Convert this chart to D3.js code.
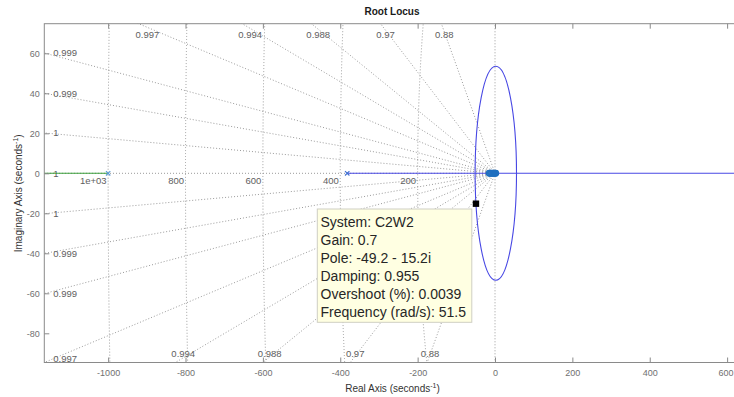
<!DOCTYPE html>
<html>
<head>
<meta charset="utf-8">
<script src="https://cdn.jsdelivr.net/npm/d3@7"></script>
<style>
  html, body { margin: 0; padding: 0; background: #fff; }
  svg { display: block; font-family: "Liberation Sans", Arial, Helvetica, sans-serif; }
</style>
</head>
<body>
<svg id="chart" width="734" height="397"></svg>
<script>
// Axis limits and ticks
const xLimits = [-1165, 632];
const yLimits = [-94.6, 74.8];
const xTicks = [-1000, -800, -600, -400, -200, 0, 200, 400, 600];
const yTicks = [-80, -60, -40, -20, 0, 20, 40, 60];

// s-plane grid: damping ratios (rays) and natural frequencies (semicircles)
const dampingValues = [1, 0.99985, 0.99941, 0.99867, 0.99672, 0.99351, 0.9878, 0.9695, 0.88, 0];
const frequencyValues = [200, 400, 600, 800, 1000];

// Root locus branches on the real axis (start, end, colour)
const realBranchStart = [xLimits[0], -382];
const realBranchEnd = [-1000, xLimits[1]];
const realBranchColor = ["#3a9e3a", "#4848e4"];

// Circular branch of the locus (centre on the real axis, radius)
const circleCenter = 2.1;
const circleRadius = 53.5;

// Open-loop poles away from the origin and the pole/zero cluster near it
const farPoles = [-1000, -382];
const farPoleColor = ["#5b9bd5", "#3f6fd0"];
const clusterZeros = [-15, -12, -9, -6, -3, 0, 2];
const clusterPoles = [-10, -4, 0];

// Data tip
const tipSystem = "C2W2";
const tipGain = 0.7;
const tipPole = [-49.2, -15.2];
const tipDamping = 0.955;
const tipOvershoot = "0.0039";
const tipFrequency = 51.5;

const W = 734;
const svg = d3.select("#chart");
const plot = { left: 44.3, right: 739.5, top: 23.7, bottom: 362.5 };

const x = d3.scaleLinear().domain(xLimits).range([plot.left, plot.right]);
const y = d3.scaleLinear().domain(yLimits).range([plot.bottom, plot.top]);

// %.3g style number formatting
function fmt3g(v) {
  let s = Number(v).toPrecision(3);
  if (s.includes("e")) {
    let [m, e] = s.split("e");
    if (m.includes(".")) m = m.replace(/0+$/, "").replace(/\.$/, "");
    const sign = e[0];
    let digits = e.slice(1);
    if (digits.length < 2) digits = "0" + digits;
    return m + "e" + sign + digits;
  }
  if (s.includes(".")) s = s.replace(/0+$/, "").replace(/\.$/, "");
  return s;
}

svg.append("defs").append("clipPath").attr("id", "plotClip")
  .append("rect")
  .attr("x", plot.left).attr("y", plot.top)
  .attr("width", plot.right - plot.left).attr("height", plot.bottom - plot.top);

const grid = svg.append("g").attr("clip-path", "url(#plotClip)");
const gridStyle = sel => sel.attr("fill", "none").attr("stroke", "#8f8f8f")
  .attr("stroke-width", 0.9).attr("stroke-dasharray", "1 2");

const x0 = x(0), y0 = y(0);
const pxRatio = (y(0) - y(1)) / (x(1) - x(0));

// Natural frequency semicircles in the left half-plane
frequencyValues.forEach(f => {
  const rx = x0 - x(-f);
  const ry = y(-f) - y0;
  grid.append("path")
    .attr("d", `M${x0},${y0 - ry} A${rx},${ry} 0 0 0 ${x0},${y0 + ry}`)
    .call(gridStyle);
});

// Damping rays from the origin
const labelsLayer = svg.append("g")
  .attr("font-size", 9.5).attr("fill", "#5e5e5e");
const far = 5000;

dampingValues.forEach(z => {
  if (z === 1) {
    grid.append("path").attr("d", `M${x0},${y0} L${x(-far)},${y0}`).call(gridStyle);
    return;
  }
  if (z === 0) {
    grid.append("path").attr("d", `M${x0},${y0} L${x0},${y(far)}`).call(gridStyle);
    grid.append("path").attr("d", `M${x0},${y0} L${x0},${y(-far)}`).call(gridStyle);
    return;
  }
  const s = Math.sqrt(1 - z * z) / z;
  [1, -1].forEach(dir => {
    grid.append("path")
      .attr("d", `M${x0},${y0} L${x(-far)},${y(dir * s * far)}`)
      .call(gridStyle);
  });
});

// Damping labels where each ray leaves the plot box
dampingValues.forEach(z => {
  if (z === 0) return;
  const s = z === 1 ? 0 : Math.sqrt(1 - z * z) / z;
  const dirs = z === 1 ? [1] : [1, -1];
  const pxSlope = s * pxRatio;
  const cos2 = 1 / (1 + pxSlope * pxSlope);
  dirs.forEach(dir => {
    const yLeft = dir * s * (-xLimits[0]);
    if (yLeft <= yLimits[1] && yLeft >= yLimits[0]) {
      let py = y(yLeft);
      py = Math.min(py, plot.bottom - 4);
      labelsLayer.append("text")
        .attr("x", plot.left + 9).attr("y", py)
        .attr("dy", "0.35em").attr("text-anchor", "start")
        .text(fmt3g(z));
    } else {
      const edge = dir > 0 ? yLimits[1] : yLimits[0];
      const xe = -Math.abs(edge) / s;
      const py = dir > 0 ? plot.top + 11 : plot.bottom - 9;
      labelsLayer.append("text")
        .attr("x", x(xe) + 2 + 8 * cos2).attr("y", py)
        .attr("dy", "0.35em").attr("text-anchor", "middle")
        .text(fmt3g(z));
    }
  });
});

// Frequency labels just below the real axis
frequencyValues.forEach(f => {
  labelsLayer.append("text")
    .attr("x", x(-f) - 1.5).attr("y", y0 + 7.5)
    .attr("dy", "0.35em").attr("text-anchor", "end")
    .text(fmt3g(f));
});

// Locus
const locus = svg.append("g").attr("clip-path", "url(#plotClip)");
realBranchStart.forEach((a, i) => {
  locus.append("line")
    .attr("x1", x(a)).attr("x2", x(realBranchEnd[i]))
    .attr("y1", y0).attr("y2", y0)
    .attr("stroke", realBranchColor[i]).attr("stroke-width", 1.1);
});
locus.append("ellipse")
  .attr("cx", x(circleCenter)).attr("cy", y0)
  .attr("rx", x(circleCenter + circleRadius) - x(circleCenter))
  .attr("ry", y(0) - y(circleRadius))
  .attr("fill", "none").attr("stroke", "#4848e4").attr("stroke-width", 1.1);

// Pole and zero markers
function xMark(g, px, py, r, color, w) {
  g.append("path")
    .attr("d", `M${px - r},${py - r} L${px + r},${py + r} M${px - r},${py + r} L${px + r},${py - r}`)
    .attr("stroke", color).attr("stroke-width", w).attr("fill", "none");
}
farPoles.forEach((p, i) => xMark(locus, x(p), y0, 2.2, farPoleColor[i], 1.1));
clusterZeros.forEach(zr => {
  locus.append("circle").attr("cx", x(zr)).attr("cy", y0).attr("r", 2.8)
    .attr("fill", "none").attr("stroke", "#1f6fbf").attr("stroke-width", 1.3);
});
clusterPoles.forEach(p => xMark(locus, x(p), y0, 2.6, "#1f6fbf", 1.2));

// Data tip marker
const tipX = x(tipPole[0]), tipY = y(tipPole[1]);
svg.append("rect")
  .attr("x", tipX - 3.2).attr("y", tipY - 3.2)
  .attr("width", 6.4).attr("height", 6.4).attr("fill", "#000");

// Axes box and ticks
svg.append("rect")
  .attr("x", plot.left).attr("y", plot.top)
  .attr("width", plot.right - plot.left).attr("height", plot.bottom - plot.top)
  .attr("fill", "none").attr("stroke", "#8a8a8a").attr("stroke-width", 1);

function styleAxis(g) {
  g.select(".domain").remove();
  g.selectAll(".tick line").attr("stroke", "#8a8a8a");
  g.selectAll(".tick text").attr("fill", "#707070")
    .attr("font-size", 9).attr("font-family", "\"Liberation Sans\", Arial, sans-serif");
}
const bottomAxis = svg.append("g").attr("transform", `translate(0,${plot.bottom})`)
  .call(d3.axisBottom(x).tickValues(xTicks).tickSizeInner(-5).tickSizeOuter(0)
    .tickPadding(7).tickFormat(d => String(d)))
  .call(styleAxis);
// keep the right-most tick label inside the canvas
bottomAxis.selectAll(".tick").each(function () {
  const t = d3.select(this);
  const txt = t.select("text");
  const bb = this.getBBox();
  const m = this.getCTM();
  const rightEdge = m.e + bb.x + bb.width;
  if (rightEdge > W - 0.5) txt.attr("x", -(rightEdge - (W - 0.5)));
});
svg.append("g").attr("transform", `translate(0,${plot.top})`)
  .call(d3.axisTop(x).tickValues(xTicks).tickSizeInner(-5).tickSizeOuter(0).tickFormat(""))
  .call(styleAxis);
svg.append("g").attr("transform", `translate(${plot.left},0)`)
  .call(d3.axisLeft(y).tickValues(yTicks).tickSizeInner(-5).tickSizeOuter(0)
    .tickPadding(4.5).tickFormat(d => String(d)))
  .call(styleAxis);

// Data tip box
const tip = svg.append("g");
const tipLines = [
  `System: ${tipSystem}`,
  `Gain: ${tipGain}`,
  `Pole: ${tipPole[0]} - ${Math.abs(tipPole[1])}i`,
  `Damping: ${tipDamping}`,
  `Overshoot (%): ${tipOvershoot}`,
  `Frequency (rad/s): ${tipFrequency}`
];
tip.append("rect")
  .attr("x", 317.3).attr("y", 209).attr("width", 154.5).attr("height", 113.3)
  .attr("fill", "#ffffe2").attr("stroke", "#cfcfc4").attr("stroke-width", 1);
tip.selectAll("text").data(tipLines).join("text")
  .attr("x", 320.5).attr("y", (d, i) => 226.6 + i * 18)
  .attr("font-size", 14).attr("fill", "#262626")
  .text(d => d);

// Title and axis labels
svg.append("text")
  .attr("x", 392).attr("y", 15.3).attr("text-anchor", "middle")
  .attr("font-size", 10).attr("font-weight", "bold").attr("fill", "#1a1a1a")
  .text("Root Locus");

const xl = svg.append("text")
  .attr("x", 392.5).attr("y", 391.5).attr("text-anchor", "middle")
  .attr("font-size", 10).attr("fill", "#333");
xl.append("tspan").text("Real Axis (seconds");
xl.append("tspan").attr("font-size", 7).attr("dy", -4).text("-1");
xl.append("tspan").attr("dy", 4).text(")");

const yl = svg.append("text")
  .attr("transform", "translate(21.8,193.3) rotate(-90)")
  .attr("text-anchor", "middle")
  .attr("font-size", 10).attr("fill", "#333");
yl.append("tspan").text("Imaginary Axis (seconds");
yl.append("tspan").attr("font-size", 7).attr("dy", -4).text("-1");
yl.append("tspan").attr("dy", 4).text(")");
</script>
</body>
</html>
